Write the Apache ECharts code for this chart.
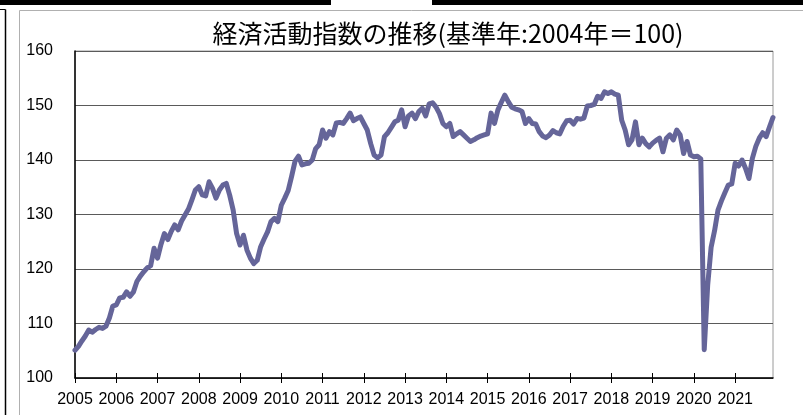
<!DOCTYPE html>
<html>
<head>
<meta charset="utf-8">
<title>経済活動指数の推移</title>
<style>
  html, body { margin: 0; padding: 0; background: #fff; }
  #chart { width: 803px; height: 415px; }
</style>
</head>
<body>
<div id="chart"></div>
<script src="https://cdn.jsdelivr.net/npm/echarts@6.0.0/dist/echarts.min.js"></script>
<script type="text/javascript">
// 年（目盛ラベル）
var years = ['2005', '2006', '2007', '2008', '2009', '2010', '2011', '2012', '2013',
  '2014', '2015', '2016', '2017', '2018', '2019', '2020', '2021'];

// 縦軸の範囲
var yMin = 100, yMax = 160, yStep = 10;

// 経済活動指数（月次、2004年=100）
var monthlyIndex = [
  105.1, 105.8, 106.8, 107.7, 108.8, 108.4, 108.9, 109.3, 109.1, 109.5, 111.0, 113.2, // 2005
  113.4, 114.7, 114.8, 115.8, 115.0, 115.8, 117.7, 118.7, 119.5, 120.2, 120.6, 123.8, // 2006
  122.0, 124.5, 126.5, 125.4, 126.9, 128.1, 127.2, 128.8, 129.9, 131.0, 132.7, 134.5, // 2007
  135.1, 133.6, 133.4, 136.0, 134.8, 133.0, 134.5, 135.4, 135.7, 133.5, 130.8, 126.5, // 2008
  124.4, 126.2, 123.5, 122.0, 121.0, 121.6, 124.1, 125.5, 126.8, 128.7, 129.3, 128.7, // 2009
  131.7, 133.0, 134.4, 137.0, 139.8, 140.7, 139.1, 139.3, 139.4, 140.0, 142.1, 142.8, // 2010
  145.5, 144.0, 145.2, 144.6, 146.8, 146.9, 146.7, 147.6, 148.6, 147.2, 147.6, 147.9, // 2011
  146.7, 145.5, 143.0, 140.9, 140.4, 140.9, 144.3, 145.0, 146.0, 147.0, 147.3, 149.2, // 2012
  146.1, 148.1, 148.6, 147.6, 148.9, 149.5, 148.1, 150.3, 150.5, 149.7, 148.5, 146.7, // 2013
  146.1, 146.7, 144.3, 144.8, 145.2, 144.6, 144.0, 143.4, 143.7, 144.1, 144.4, 144.6, // 2014
  144.8, 148.6, 146.7, 149.2, 150.6, 151.9, 150.7, 149.7, 149.4, 149.2, 148.9, 146.7, // 2015
  147.6, 146.7, 146.6, 145.2, 144.4, 144.1, 144.6, 145.4, 145.0, 144.8, 146.2, 147.2, // 2016
  147.3, 146.6, 147.6, 147.5, 147.7, 149.9, 150.0, 150.2, 151.7, 151.3, 152.5, 152.2, // 2017
  152.5, 152.1, 151.9, 147.3, 145.5, 142.8, 143.7, 147.0, 142.8, 144.0, 143.0, 142.4, // 2018
  143.1, 143.6, 144.0, 141.5, 144.0, 144.6, 143.7, 145.5, 144.6, 141.2, 143.4, 140.9, // 2019
  140.6, 140.7, 140.2, 105.2, 117.0, 124.0, 127.0, 130.8, 132.5, 134.0, 135.4, 135.6, // 2020
  139.4, 138.9, 140.0, 138.5, 136.6, 140.3, 142.5, 144.0, 145.0, 144.3, 146.1, 147.8  // 2021
];

// 月のカテゴリ（2005/1 ～ 2021/12）
var months = [];
years.forEach(function (y) {
  for (var m = 1; m <= 12; m++) { months.push(y + '/' + m); }
});

var chart = echarts.init(document.getElementById('chart'), null, { renderer: 'canvas' });

var labelFont = '"Liberation Sans", Arial, sans-serif';

chart.setOption({
  animation: false,
  backgroundColor: '#fff',
  grid: {
    left: 75, right: 30, top: 51, bottom: 37,
    show: true, borderColor: '#9a9a9a', borderWidth: 1
  },
  // ページ枠と表題
  graphic: [
    { type: 'rect', shape: { x: 0, y: 0, width: 331, height: 5 }, style: { fill: '#000' } },
    { type: 'rect', shape: { x: 432, y: 0, width: 371, height: 5 }, style: { fill: '#000' } },
    { type: 'line', shape: { x1: 19.5, y1: 10.5, x2: 803, y2: 10.5 }, style: { stroke: '#b0b0b0', lineWidth: 1 } },
    { type: 'line', shape: { x1: 19.5, y1: 10.5, x2: 19.5, y2: 415 }, style: { stroke: '#b0b0b0', lineWidth: 1 } },
    { type: 'line', shape: { x1: 0, y1: 9.5, x2: 5.5, y2: 9.5 }, style: { stroke: '#000', lineWidth: 1 } },
    { type: 'line', shape: { x1: 5.5, y1: 9.5, x2: 5.5, y2: 415 }, style: { stroke: '#000', lineWidth: 1.5 } },
    {
      type: 'text', x: 448, y: 33,
      style: {
        text: '経済活動指数の推移(基準年:2004年＝100)',
        font: '25px "Noto Sans CJK JP", sans-serif',
        fill: '#000', textAlign: 'center', textVerticalAlign: 'middle'
      }
    }
  ],
  xAxis: [{
    type: 'category',
    data: months,
    boundaryGap: false,
    position: 'bottom',
    axisLine: { lineStyle: { color: '#000', width: 1.5 } },
    axisTick: { interval: 11, length: 5, lineStyle: { color: '#000' } },
    axisLabel: {
      interval: 11, margin: 14, color: '#000', fontSize: 16, fontFamily: labelFont,
      formatter: function (v) { return v.split('/')[0]; }
    },
    splitLine: { show: false }
  }, {
    // 内向きの目盛
    type: 'category',
    data: months,
    boundaryGap: false,
    position: 'bottom',
    axisLine: { show: false },
    axisTick: { inside: true, interval: 11, length: 5, lineStyle: { color: '#000' } },
    axisLabel: { show: false },
    splitLine: { show: false }
  }],
  yAxis: {
    type: 'value',
    min: yMin, max: yMax, interval: yStep,
    axisLine: { show: true, lineStyle: { color: '#000', width: 1.5 } },
    axisTick: { show: false },
    axisLabel: { margin: 22, color: '#000', fontSize: 16, fontFamily: labelFont },
    splitLine: { lineStyle: { color: '#5a5a5a', width: 1 } }
  },
  series: [{
    type: 'line',
    data: monthlyIndex,
    showSymbol: false,
    symbol: 'none',
    lineStyle: { color: '#656599', width: 5, join: 'round', cap: 'round' }
  }]
});
</script>
</body>
</html>
